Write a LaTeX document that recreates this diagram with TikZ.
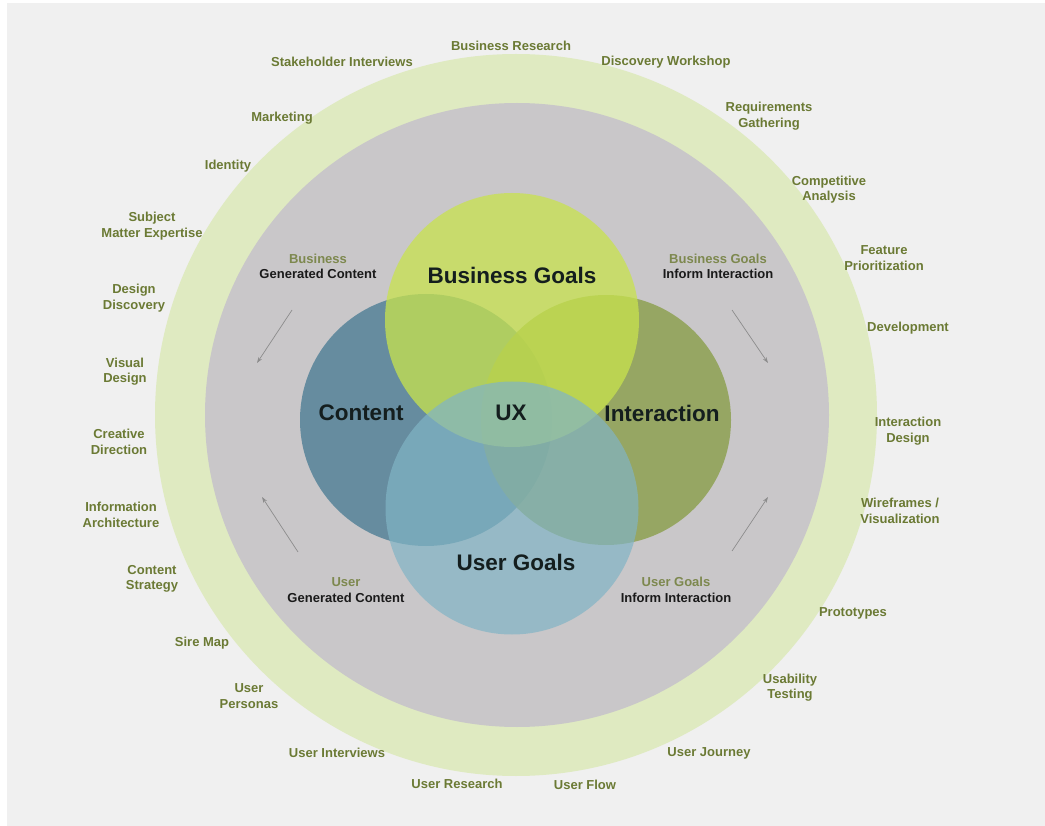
\documentclass[tikz,border=0pt]{standalone}
\usepackage{fontspec}
\setmainfont{Liberation Sans}
\usetikzlibrary{arrows.meta}
\definecolor{pagebg}{RGB}{240,240,240}
\definecolor{ringgreen}{RGB}{223,234,193}
\definecolor{ringgray}{RGB}{201,199,201}
\definecolor{contentc}{RGB}{78,126,149}
\definecolor{interc}{RGB}{138,158,74}
\definecolor{busc}{RGB}{200,227,77}
\definecolor{userc}{RGB}{129,180,197}
\definecolor{olive}{RGB}{107,122,52}
\definecolor{oliveinner}{RGB}{125,136,78}
\definecolor{darktxt}{RGB}{26,26,26}
\definecolor{bigtxt}{RGB}{20,30,30}
\definecolor{arrowc}{RGB}{140,140,140}
\tikzset{
  outerlbl/.style={font=\bfseries\fontsize{13}{15.5}\selectfont, text=olive, align=center, inner sep=0pt},
  innerlbl/.style={font=\bfseries\fontsize{13}{15.5}\selectfont, text=darktxt, align=center, inner sep=0pt},
  biglbl/.style={font=\bfseries\fontsize{22.5}{26}\selectfont, text=bigtxt, inner sep=0pt},
  venn/.style={circle, inner sep=0pt, minimum size=#1},
  flowarrow/.style={draw=arrowc, line width=0.7pt, -{Stealth[length=6pt,width=4pt]}}
}
\begin{document}
\begin{tikzpicture}[x=1pt,y=-1pt]
\useasboundingbox (0,0) rectangle (1045,826);
\fill[white] (0,0) rectangle (1045,826);
\fill[pagebg] (7,3) rectangle (1045,826);
% rings
\node[venn=722pt, fill=ringgreen] (greenring) at (516,415) {};
\node[venn=624pt, fill=ringgray] (grayring) at (517,415) {};
% venn circles
\node[venn=252pt, fill=contentc, fill opacity=0.8] (contentcirc) at (426,420) {};
\node[venn=250pt, fill=interc, fill opacity=0.8] (intercirc) at (606,420) {};
\node[venn=254pt, fill=busc, fill opacity=0.75] (buscirc) at (512,320) {};
\node[venn=253pt, fill=userc, fill opacity=0.7] (usercirc) at (512,508) {};
% big labels
\node[biglbl] (lbus) at (512,275) {Business Goals};
\node[biglbl] (lcontent) at (361,413) {Content};
\node[biglbl] (lux) at (511,413) {UX};
\node[biglbl] (linter) at (662,413) {Interaction};
\node[biglbl] (luser) at (516,562) {User Goals};
% inner labels
\node[innerlbl] (bgc) at (318,266.5) {\textcolor{oliveinner}{Business}\\Generated Content};
\node[innerlbl] (bgi) at (718,266.5) {\textcolor{oliveinner}{Business Goals}\\Inform Interaction};
\node[innerlbl] (ugc) at (346,590) {\textcolor{oliveinner}{User}\\Generated Content};
\node[innerlbl] (ugi) at (676,590) {\textcolor{oliveinner}{User Goals}\\Inform Interaction};
% arrows
\coordinate (a1s) at (292,310); \coordinate (a1e) at (257,363);
\coordinate (a2s) at (732,310); \coordinate (a2e) at (768,363);
\coordinate (a3s) at (298,552); \coordinate (a3e) at (262,497);
\coordinate (a4s) at (732,551); \coordinate (a4e) at (768,497);
\draw[flowarrow] (a1s) -- (a1e);
\draw[flowarrow] (a2s) -- (a2e);
\draw[flowarrow] (a3s) -- (a3e);
\draw[flowarrow] (a4s) -- (a4e);
% outer labels
\node[outerlbl] (o1) at (511,46) {Business Research};
\node[outerlbl] (o2) at (342,62) {Stakeholder Interviews};
\node[outerlbl] (o3) at (666,62) {Discovery Workshop};
\node[outerlbl] (o4) at (282,118) {Marketing};
\node[outerlbl] (o5) at (769,116) {Requirements\\Gathering};
\node[outerlbl] (o6) at (228,166) {Identity};
\node[outerlbl] (o7) at (829,189.5) {Competitive\\Analysis};
\node[outerlbl] (o8) at (152,226) {Subject\\Matter Expertise};
\node[outerlbl] (o9) at (884,258) {Feature\\Prioritization};
\node[outerlbl] (o10) at (134,298) {Design\\Discovery};
\node[outerlbl] (o11) at (908,328) {Development};
\node[outerlbl] (o12) at (125,371.5) {Visual\\Design};
\node[outerlbl] (o13) at (908,431) {Interaction\\Design};
\node[outerlbl] (o14) at (119,442) {Creative\\Direction};
\node[outerlbl] (o15) at (121,515) {Information\\Architecture};
\node[outerlbl] (o16) at (900,511) {Wireframes /\\Visualization};
\node[outerlbl] (o17) at (152,579) {Content\\Strategy};
\node[outerlbl] (o18) at (853,613) {Prototypes};
\node[outerlbl] (o19) at (202,643) {Sire Map};
\node[outerlbl] (o20) at (249,696) {User\\Personas};
\node[outerlbl] (o21) at (790,687.5) {Usability\\Testing};
\node[outerlbl] (o22) at (337,753) {User Interviews};
\node[outerlbl] (o23) at (709,753) {User Journey};
\node[outerlbl] (o24) at (457,784) {User Research};
\node[outerlbl] (o25) at (585,785) {User Flow};
\end{tikzpicture}
\end{document}
